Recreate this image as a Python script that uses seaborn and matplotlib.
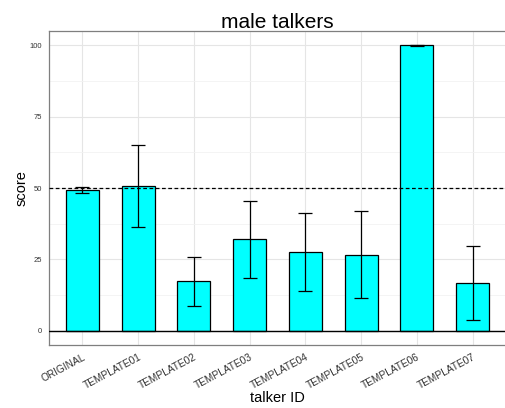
import numpy as np
import pandas as pd
import matplotlib
matplotlib.use("Agg")
import matplotlib.pyplot as plt
import seaborn as sns
from matplotlib.ticker import MultipleLocator

# values
talkers = ["ORIGINAL", "TEMPLATE01", "TEMPLATE02", "TEMPLATE03",
           "TEMPLATE04", "TEMPLATE05", "TEMPLATE06", "TEMPLATE07"]
score = [49.3, 50.6, 17.3, 32.2, 27.6, 26.7, 100.0, 16.7]
err_low = [48.3, 36.4, 8.8, 18.6, 14.0, 11.5, 99.8, 3.8]
err_high = [50.3, 65.0, 25.8, 45.5, 41.3, 41.9, 100.0, 29.6]

data = pd.DataFrame({"talker ID": talkers, "score": score})

sns.set_style("white")
plt.rcParams['font.family'] = ['Liberation Sans', 'DejaVu Sans']

fig = plt.figure(figsize=(5.05, 4.08), dpi=100)
ax = fig.add_axes([0.097, 0.154, 0.905, 0.770])

sns.barplot(data=data, x="talker ID", y="score", color="#00FFFF",
            saturation=1, width=0.59, edgecolor="black", linewidth=0.9,
            errorbar=None, ax=ax, zorder=3)

pos = np.arange(len(talkers))
lo = np.array(score) - np.array(err_low)
hi = np.array(err_high) - np.array(score)
ax.errorbar(pos, score, yerr=[lo, hi], fmt="none", ecolor="black",
            elinewidth=0.9, capsize=5, capthick=0.9, zorder=4)

ax.axhline(50, color="black", linestyle=(0, (3, 2)), linewidth=0.9, zorder=5)
ax.axhline(0, color="black", linewidth=1.0, zorder=5)

ax.set_xlim(-0.6, len(talkers) - 0.4)
ax.set_ylim(-5, 105)
ax.yaxis.set_major_locator(MultipleLocator(25))
ax.yaxis.set_minor_locator(MultipleLocator(12.5))
ax.grid(which="major", color="#e5e5e5", linewidth=0.8, zorder=0)
ax.grid(which="minor", axis="y", color="#f2f2f2", linewidth=0.6, zorder=0)
ax.set_axisbelow(True)

for s in ax.spines.values():
    s.set_color("#7f7f7f")
    s.set_linewidth(0.9)

ax.tick_params(axis="both", which="major", length=3, color="#7f7f7f",
               labelcolor="#333333")
ax.tick_params(axis="y", which="minor", length=0)
ax.tick_params(axis="y", labelsize=5.5, pad=2)
ax.tick_params(axis="x", labelsize=7.3, pad=2)
plt.setp(ax.get_xticklabels(), rotation=28, ha="right", rotation_mode="anchor")

ax.set_xlabel("talker ID", fontsize=10.5, labelpad=0, color="black")
ax.set_ylabel("score", fontsize=10.5, labelpad=1, color="black")
ax.set_title("male talkers", fontsize=15, pad=2, color="black")

fig.savefig("out.png", dpi=100)
